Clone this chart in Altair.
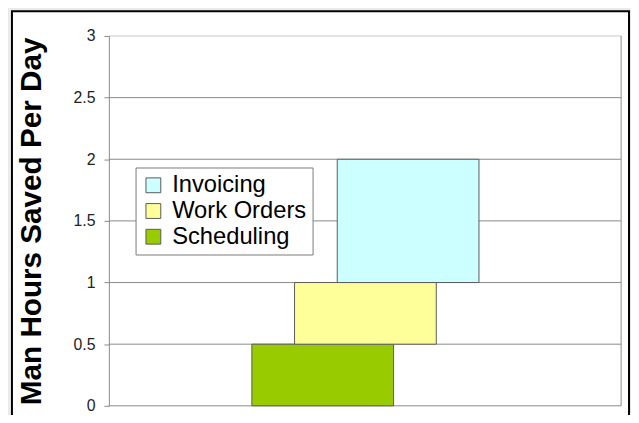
import altair as alt
import pandas as pd

# ---- data ----
tasks = ["Scheduling", "Work Orders", "Invoicing"]
pos_start = [3.35, 4.35, 5.35]
pos_end = [6.67, 7.67, 8.67]
hours_low = [0.0, 0.5, 1.0]
hours_high = [0.5, 1.0, 2.0]
y_ticks = [0, 0.5, 1, 1.5, 2, 2.5, 3]

legend_order = ["Invoicing", "Work Orders", "Scheduling"]
colors = ["#CCFFFF", "#FFFF99", "#99CC00"]

bars_df = pd.DataFrame({
    "task": tasks,
    "x0": pos_start,
    "x1": pos_end,
    "y0": hours_low,
    "y1": hours_high,
})
grid_df = pd.DataFrame({"tick": y_ticks})

W, H = 518, 374
FONT = "Liberation Sans"

xscale = alt.Scale(domain=[0, 12], nice=False, zero=False)
yscale = alt.Scale(domain=[0, 3], nice=False, zero=False)

# white chart area with black border
frame = alt.Chart(pd.DataFrame({"a": [0]})).mark_rect(
    fill="white", stroke="black", strokeWidth=2
).encode(
    x=alt.value(-98), x2=alt.value(526), y=alt.value(-25), y2=alt.value(430)
)

grid = alt.Chart(grid_df).mark_rule(strokeWidth=1).encode(
    x=alt.value(0),
    x2=alt.value(W),
    y=alt.Y("tick:Q", scale=yscale),
    color=alt.condition("datum.tick == 3", alt.value("#c8c8c8"), alt.value("#8a8a8a")),
)

right_edge = alt.Chart(pd.DataFrame({"a": [0]})).mark_rule(color="#8a8a8a", strokeWidth=1).encode(
    x=alt.value(W), y=alt.value(0), y2=alt.value(H)
)

bars = alt.Chart(bars_df).mark_rect(stroke="#5a5a5a", strokeWidth=1).encode(
    x=alt.X("x0:Q", scale=xscale, axis=None),
    x2="x1:Q",
    y=alt.Y(
        "y0:Q",
        scale=yscale,
        axis=alt.Axis(
            values=y_ticks,
            format="~g",
            grid=False,
            zindex=1,
            domainColor="#8a8a8a",
            tickColor="#8a8a8a",
            tickSize=5,
            labelPadding=9,
            labelFont=FONT,
            labelFontSize=16,
            labelColor="#222222",
            title="Man Hours Saved Per Day",
            titleFont=FONT,
            titleFontSize=30,
            titleFontWeight="bold",
            titleColor="black",
            titleAngle=270,
            titleAlign="center",
            titleBaseline="alphabetic",
            titleX=-69,
            titleY=H / 2,
        ),
    ),
    y2="y1:Q",
    fill=alt.Fill(
        "task:N",
        scale=alt.Scale(domain=legend_order, range=colors),
        legend=alt.Legend(
            title=None,
            orient="none",
            legendX=27,
            legendY=133,
            fillColor="white",
            strokeColor="#7a7a7a",
            padding=6,
            symbolType="square",
            symbolSize=225,
            symbolStrokeColor="#5a5a5a",
            symbolStrokeWidth=1,
            labelFont=FONT,
            labelFontSize=24,
            labelColor="black",
            labelOffset=7,
            rowPadding=2,
        ),
    ),
)

chart = alt.layer(frame, grid, right_edge, bars).properties(
    width=W,
    height=H,
    background="#ECEAE8",
    padding={"left": 102, "top": 26, "right": 10, "bottom": 7},
    autosize=alt.AutoSizeParams(type="none"),
).configure_view(stroke=None)

chart.save("out.html", embed_options={"renderer": "svg", "actions": False})
